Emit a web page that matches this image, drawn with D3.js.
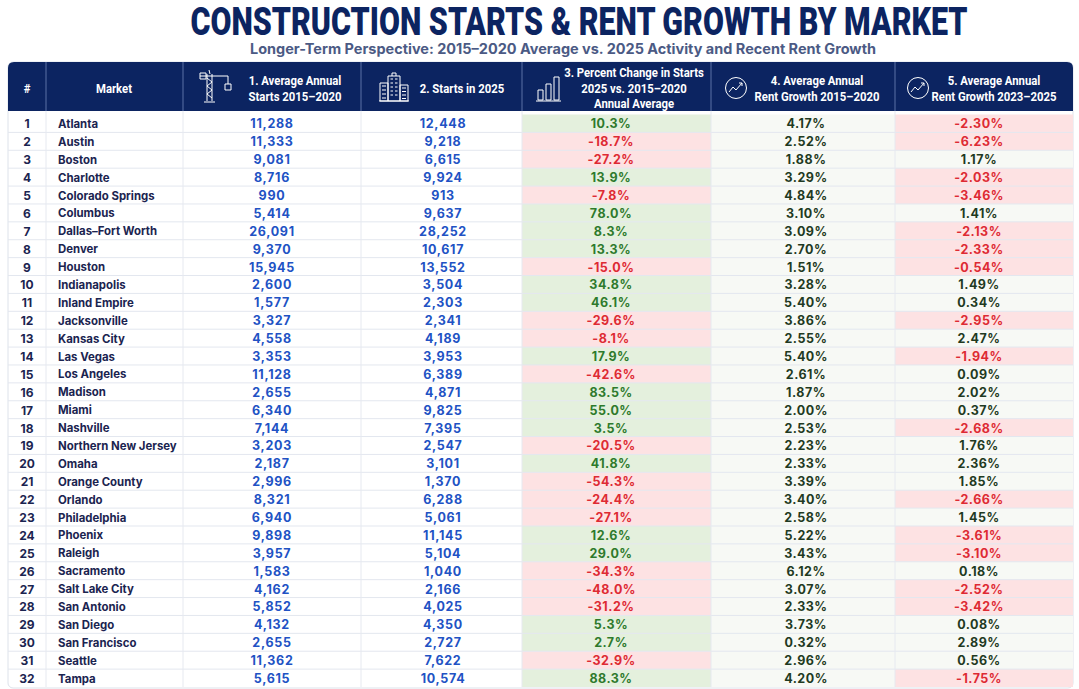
<!DOCTYPE html>
<html>
<head>
<meta charset="utf-8">
<script src="https://cdn.jsdelivr.net/npm/d3@7"></script>
<style>
  html, body { margin: 0; padding: 0; background: #ffffff; }
  svg { display: block; }
</style>
</head>
<body>
<div id="chart"></div>
<script>
/*
    Data
*/
const markets = ["Atlanta", "Austin", "Boston", "Charlotte", "Colorado Springs", "Columbus",
    "Dallas–Fort Worth", "Denver", "Houston", "Indianapolis", "Inland Empire", "Jacksonville",
    "Kansas City", "Las Vegas", "Los Angeles", "Madison", "Miami", "Nashville",
    "Northern New Jersey", "Omaha", "Orange County", "Orlando", "Philadelphia", "Phoenix",
    "Raleigh", "Sacramento", "Salt Lake City", "San Antonio", "San Diego", "San Francisco",
    "Seattle", "Tampa"];
const startsAvg1520 = [11288, 11333, 9081, 8716, 990, 5414, 26091, 9370, 15945, 2600, 1577, 3327,
    4558, 3353, 11128, 2655, 6340, 7144, 3203, 2187, 2996, 8321, 6940, 9898,
    3957, 1583, 4162, 5852, 4132, 2655, 11362, 5615];
const starts2025 = [12448, 9218, 6615, 9924, 913, 9637, 28252, 10617, 13552, 3504, 2303, 2341,
    4189, 3953, 6389, 4871, 9825, 7395, 2547, 3101, 1370, 6288, 5061, 11145,
    5104, 1040, 2166, 4025, 4350, 2727, 7622, 10574];
const pctChange = [10.3, -18.7, -27.2, 13.9, -7.8, 78.0, 8.3, 13.3, -15.0, 34.8, 46.1, -29.6,
    -8.1, 17.9, -42.6, 83.5, 55.0, 3.5, -20.5, 41.8, -54.3, -24.4, -27.1, 12.6,
    29.0, -34.3, -48.0, -31.2, 5.3, 2.7, -32.9, 88.3];
const rent1520 = [4.17, 2.52, 1.88, 3.29, 4.84, 3.10, 3.09, 2.70, 1.51, 3.28, 5.40, 3.86,
    2.55, 5.40, 2.61, 1.87, 2.00, 2.53, 2.23, 2.33, 3.39, 3.40, 2.58, 5.22,
    3.43, 6.12, 3.07, 2.33, 3.73, 0.32, 2.96, 4.20];
const rent2325 = [-2.30, -6.23, 1.17, -2.03, -3.46, 1.41, -2.13, -2.33, -0.54, 1.49, 0.34, -2.95,
    2.47, -1.94, 0.09, 2.02, 0.37, -2.68, 1.76, 2.36, 1.85, -2.66, 1.45, -3.61,
    -3.10, 0.18, -2.52, -3.42, 0.08, 2.89, 0.56, -1.75];
const headers = [
    ["#"],
    ["Market"],
    ["1. Average Annual", "Starts 2015–2020"],
    ["2. Starts in 2025"],
    ["3. Percent Change in Starts", "2025 vs. 2015–2020", "Annual Average"],
    ["4. Average Annual", "Rent Growth 2015–2020"],
    ["5. Average Annual", "Rent Growth 2023–2025"]
];

/*
    Layout
*/
const width = 1079;
const height = 689;
const colEdges = [8, 46, 183, 361, 522, 711, 895, 1073];
const headTop = 62, headBottom = 111;
const navy = "#0c2461";
const headFont = "Roboto, 'Liberation Sans', sans-serif";
const bodyFont = "Inter, 'Open Sans', sans-serif";

const rows = d3.range(markets.length);
const y = d3.scaleBand().domain(rows).range([114.5, 687]).padding(0);
const fmtInt = d3.format(",");
const fmt1 = v => d3.format(".1f")(v).replace("−", "-") + "%";
const fmt2 = v => d3.format(".2f")(v).replace("−", "-") + "%";

const svg = d3.select("#chart").append("svg")
    .attr("width", width)
    .attr("height", height);

// Title
svg.append("g")
    .attr("transform", "translate(579,35) scale(0.8,1)")
    .append("text")
    .attr("text-anchor", "middle")
    .attr("textLength", 777 / 0.8).attr("lengthAdjust", "spacingAndGlyphs")
    .style("font-family", headFont)
    .style("font-weight", "900")
    .style("font-size", "38px")
    .style("fill", navy)
    .text("CONSTRUCTION STARTS & RENT GROWTH BY MARKET");
svg.append("text")
    .attr("x", 563).attr("y", 54)
    .attr("text-anchor", "middle")
    .attr("textLength", 626).attr("lengthAdjust", "spacingAndGlyphs")
    .style("font-family", bodyFont)
    .style("font-weight", "bold")
    .style("font-size", "14px")
    .style("fill", "#4b5a84")
    .text("Longer-Term Perspective: 2015–2020 Average vs. 2025 Activity and Recent Rent Growth");

// Table frame
svg.append("rect")
    .attr("x", colEdges[0]).attr("y", headTop)
    .attr("width", colEdges[7] - colEdges[0]).attr("height", 688 - headTop)
    .attr("rx", 5)
    .attr("fill", "#ffffff")
    .attr("stroke", "#dde2ea");

// Header
svg.append("path")
    .attr("d", `M${colEdges[0]},${headBottom} V${headTop + 6} Q${colEdges[0]},${headTop} ${colEdges[0] + 6},${headTop}
        H${colEdges[7] - 6} Q${colEdges[7]},${headTop} ${colEdges[7]},${headTop + 6} V${headBottom} Z`)
    .attr("fill", navy);

// Body cell backgrounds
const green = "#e4f0dd", pink = "#fde2e3", offWhite = "#f7f9f5";
const body = svg.append("g");
rows.forEach(i => {
    const cells = [
        { c: 4, fill: pctChange[i] >= 0 ? green : pink },
        { c: 5, fill: offWhite },
        { c: 6, fill: rent2325[i] >= 0 ? offWhite : pink }
    ];
    cells.forEach(d => {
        body.append("rect")
            .attr("x", colEdges[d.c]).attr("y", y(i))
            .attr("width", colEdges[d.c + 1] - colEdges[d.c])
            .attr("height", y.bandwidth())
            .attr("fill", d.fill);
    });
});

// Row lines
svg.append("g").selectAll("line")
    .data(rows.slice(1))
    .enter().append("line")
    .attr("x1", colEdges[0]).attr("x2", colEdges[7])
    .attr("y1", d => y(d)).attr("y2", d => y(d))
    .attr("stroke", "#e3e7ef").attr("stroke-width", 1);

// Column lines
svg.append("g").selectAll("line")
    .data(colEdges.slice(1, 7))
    .enter().append("line")
    .attr("x1", d => d).attr("x2", d => d)
    .attr("y1", headBottom).attr("y2", 687)
    .attr("stroke", "#e6e9f0");
svg.append("g").selectAll("line")
    .data(colEdges.slice(1, 7))
    .enter().append("line")
    .attr("x1", d => d).attr("x2", d => d)
    .attr("y1", headTop).attr("y2", headBottom)
    .attr("stroke", "#5a70a6").attr("stroke-width", 1);

// Header text (condensed by horizontal scale)
const headX = [27, 114, 295, 462, 634, 817, 994];
const headG = svg.append("g")
    .style("font-family", headFont)
    .style("font-weight", "bold")
    .style("font-size", "13.5px")
    .style("fill", "#ffffff");
headers.forEach((lines, c) => {
    const lh = 15.5;
    const mid = (headTop + headBottom) / 2 + 1.5;
    lines.forEach((t, k) => {
        headG.append("g")
            .attr("transform", `translate(${headX[c]},${mid + (k - (lines.length - 1) / 2) * lh}) scale(0.84,1)`)
            .append("text")
            .attr("text-anchor", "middle")
            .attr("dominant-baseline", "central")
            .text(t);
    });
});

// Header icons
const icons = svg.append("g")
    .attr("fill", "none").attr("stroke", "#ffffff").attr("stroke-width", 1);
// crane
const crane = icons.append("g").attr("transform", "translate(200,70)");
crane.append("path").attr("d", "M7,4 V31 M12,4 V31 M7,8 L12,12 M12,12 L7,16 M7,16 L12,20 M12,20 L7,24 M7,24 L12,28 M4,32 H15");
crane.append("path").attr("d", "M0,6 H28 M0,3 H6 V9 H0 Z M9,0 L10,4 M28,6 V12");
crane.append("path").attr("d", "M25,14 H31 V20 H25 Z M28,12 V14");
// building
const bld = icons.append("g").attr("transform", "translate(380,73)");
bld.append("path").attr("d", "M8,3 H20 V28 H8 Z M12,3 V0 H16 V3 M0,10 H8 V28 H0 Z M20,12 H28 V28 H20 Z M-1,28 H29");
[0, 1, 2, 3, 4].forEach(r => {
    bld.append("path").attr("d", `M10.5,${6 + r * 4} h2.5 M15,${6 + r * 4} h2.5`);
});
[0, 1, 2, 3].forEach(r => {
    bld.append("path").attr("d", `M2,${13 + r * 4} h4 M22,${15 + r * 3.5} h4`);
});
// bar chart
const bars = icons.append("g").attr("transform", "translate(537,76)");
bars.append("path").attr("d", "M1,14 H6 V24 H1 Z M9,8 H14 V24 H9 Z M17,1 H22 V24 H17 Z M-1,25 H24");
// trend circles
[736, 918].forEach(cx => {
    const g = icons.append("g").attr("transform", `translate(${cx},88)`);
    g.append("circle").attr("r", 10.5);
    g.append("path").attr("d", "M-7,4 L-3,-1 L0,2 L6,-5 M3,-5 H6 V-2");
});

// Body text
const rowG = svg.append("g")
    .selectAll("g")
    .data(rows)
    .enter().append("g")
    .attr("transform", d => `translate(0,${y(d) + y.bandwidth() / 2 + 0.5})`)
    .style("font-family", bodyFont)
    .style("font-weight", "bold")
    .attr("dominant-baseline", "central");

rowG.append("text")
    .attr("x", headX[0]).attr("text-anchor", "middle")
    .style("font-size", "12px").style("fill", "#1b2450")
    .text(d => d + 1);
rowG.append("text")
    .attr("x", 58)
    .style("font-size", "11.4px").style("fill", "#1b2450")
    .text(d => markets[d]);
rowG.append("text")
    .attr("x", 272).attr("text-anchor", "middle")
    .style("font-size", "12.5px").style("letter-spacing", "0.7px").style("fill", "#2152c4")
    .text(d => fmtInt(startsAvg1520[d]));
rowG.append("text")
    .attr("x", 443).attr("text-anchor", "middle")
    .style("font-size", "12.5px").style("letter-spacing", "0.7px").style("fill", "#2152c4")
    .text(d => fmtInt(starts2025[d]));
rowG.append("text")
    .attr("x", 611).attr("text-anchor", "middle")
    .style("font-size", "12.5px").style("letter-spacing", "0.5px")
    .style("fill", d => pctChange[d] >= 0 ? "#2e7a2c" : "#de2a33")
    .text(d => fmt1(pctChange[d]));
rowG.append("text")
    .attr("x", 806).attr("text-anchor", "middle")
    .style("font-size", "12.5px").style("letter-spacing", "0.5px").style("fill", "#1f3a22")
    .text(d => fmt2(rent1520[d]));
rowG.append("text")
    .attr("x", 979).attr("text-anchor", "middle")
    .style("font-size", "12.5px").style("letter-spacing", "0.5px")
    .style("fill", d => rent2325[d] >= 0 ? "#1f3a22" : "#de2a33")
    .text(d => fmt2(rent2325[d]));
</script>
</body>
</html>
